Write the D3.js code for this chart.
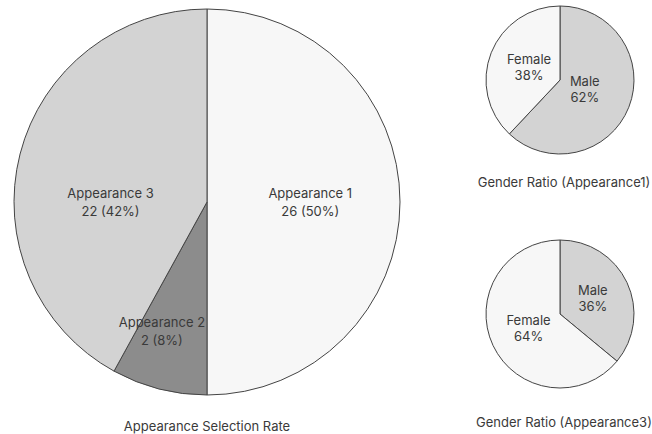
<!DOCTYPE html>
<html>
<head>
<meta charset="utf-8">
<script src="https://cdn.jsdelivr.net/npm/d3@7"></script>
<style>
  html, body { margin: 0; padding: 0; background: #fff; }
  svg { display: block; font-family: Inter, "Noto Sans", sans-serif; }
</style>
</head>
<body>
<svg id="chart" width="652" height="434"></svg>
<script>
// Overall appearance selection
const categories = ["Appearance 1", "Appearance 2", "Appearance 3"];
const counts = [26, 2, 22];
const shares = [50, 8, 42];

// Gender split per appearance
const genders = ["Male", "Female"];
const genderShareA1 = [62, 38];
const genderShareA3 = [36, 64];

const titles = ["Appearance Selection Rate", "Gender Ratio (Appearance1)", "Gender Ratio (Appearance3)"];

const svg = d3.select("#chart");
const textColor = "#3a3a3a";

const mainColor = d3.scaleOrdinal().domain(categories).range(["#f7f7f7", "#8c8c8c", "#d3d3d3"]);
const genderColor = d3.scaleOrdinal().domain(genders).range(["#d3d3d3", "#f7f7f7"]);

const pie = d3.pie().sort(null).value(d => d.value);

function drawPie(opts) {
  const g = svg.append("g").attr("transform", `translate(${opts.cx},${opts.cy})`);
  const arcs = pie(opts.data);
  const arc = d3.arc().innerRadius(0).outerRadius(opts.r);

  g.selectAll("path.slice")
    .data(arcs)
    .join("path")
    .attr("class", "slice")
    .attr("d", arc)
    .attr("fill", d => opts.color(d.data.key))
    .attr("stroke", "#444")
    .attr("stroke-width", 1);

  // labels sit on each slice's bisector, with an optional nudge
  arcs.forEach((d, i) => {
    const mid = (d.startAngle + d.endAngle) / 2;
    const rr = opts.r * opts.labelFrac[i];
    const shift = opts.labelShift ? opts.labelShift[i] : [0, 0];
    const x = Math.sin(mid) * rr + shift[0];
    const y = -Math.cos(mid) * rr + shift[1];
    const t = g.append("text")
      .attr("text-anchor", "middle")
      .attr("fill", textColor)
      .attr("font-size", opts.fontSize)
      .attr("transform", `translate(${x},${y})`);
    const lines = opts.labelText(d.data, i);
    lines.forEach((s, k) => {
      t.append("tspan")
        .attr("x", 0)
        .attr("y", (k - (lines.length - 1) / 2) * opts.lineGap)
        .attr("dy", "0.35em")
        .text(s);
    });
  });

  svg.append("text")
    .attr("x", opts.cx + (opts.titleDx || 0))
    .attr("y", opts.titleY)
    .attr("text-anchor", "middle")
    .attr("dy", "0.35em")
    .attr("fill", textColor)
    .attr("font-size", 13)
    .text(opts.title);
}

drawPie({
  cx: 207, cy: 202, r: 193,
  data: categories.map((c, i) => ({ key: c, value: shares[i], count: counts[i] })),
  color: mainColor,
  labelFrac: [0.535, 0.71, 0.5],
  labelShift: [[0, 0], [-11, -3], [-3, 24]],
  labelText: d => [d.key, `${d.count} (${d.value}%)`],
  fontSize: 13, lineGap: 18,
  title: titles[0], titleY: 426
});

drawPie({
  cx: 560, cy: 80, r: 74,
  data: genders.map((g, i) => ({ key: g, value: genderShareA1[i] })),
  color: genderColor,
  labelFrac: [0.36, 0.45],
  labelText: d => [d.key, `${d.value}%`],
  fontSize: 13, lineGap: 16,
  title: titles[1], titleY: 182, titleDx: 4
});

drawPie({
  cx: 560, cy: 314, r: 74,
  data: genders.map((g, i) => ({ key: g, value: genderShareA3[i] })),
  color: genderColor,
  labelFrac: [0.49, 0.47],
  labelText: d => [d.key, `${d.value}%`],
  fontSize: 13, lineGap: 16,
  title: titles[2], titleY: 422, titleDx: 4
});
</script>
</body>
</html>
